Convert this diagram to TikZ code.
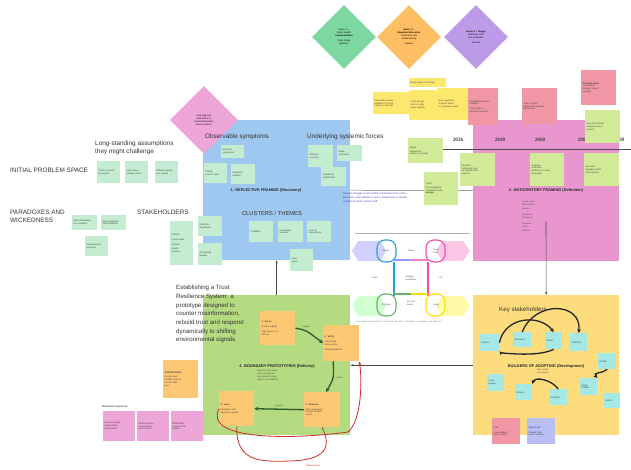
\documentclass[tikz,border=0pt]{standalone}
\usepackage{fontspec}
\setmainfont{Liberation Sans}
\newfontfamily\yearfont{Liberation Serif}
\usetikzlibrary{arrows.meta,shapes.geometric}
\definecolor{kblue}{RGB}{158,200,240}
\definecolor{kpink}{RGB}{232,150,205}
\definecolor{kgreen}{RGB}{180,218,130}
\definecolor{kyellow}{RGB}{253,220,125}
\definecolor{kmint}{RGB}{196,236,208}
\definecolor{klime}{RGB}{208,234,152}
\definecolor{korange}{RGB}{253,200,115}
\definecolor{krose}{RGB}{240,150,165}
\definecolor{klemon}{RGB}{253,232,110}
\definecolor{kcyan}{RGB}{165,232,228}
\definecolor{kmagenta}{RGB}{238,165,215}
\definecolor{klav}{RGB}{185,190,245}
\definecolor{kpurple}{RGB}{95,60,200}
\definecolor{karrow}{RGB}{45,90,40}
\definecolor{kred}{RGB}{205,45,45}
\definecolor{ksec1}{RGB}{125,215,160}
\definecolor{ksec2}{RGB}{253,190,100}
\definecolor{ksec3}{RGB}{190,155,232}
\tikzset{
  area/.style={fill=#1, anchor=north west, inner sep=0pt},
  stk/.style={fill=#1, anchor=north west, align=left, inner sep=1.5pt, text=black!75, font=\fontsize{2.3}{2.8}\selectfont},
  sz/.style 2 args={text width=#1pt, minimum height=#2pt},
  head/.style={font=\fontsize{6.4}{8}\selectfont, text=black!80, align=left, inner sep=0pt},
  phase/.style={font=\bfseries\fontsize{3.9}{4.6}\selectfont, text=black!85, inner sep=0pt},
  year/.style={font=\yearfont\bfseries\fontsize{5.2}{6}\selectfont, text=black!75, inner sep=0pt},
  tiny/.style={font=\fontsize{2.2}{2.8}\selectfont, text=black!70, align=left, inner sep=0pt},
  sector/.style={diamond, fill=#1, minimum width=64pt, minimum height=64pt, inner sep=0pt, align=center, font=\fontsize{2.3}{2.9}\selectfont},
  link/.style={-{Stealth[length=3pt]}, draw=black!70, line width=0.6pt},
  gflow/.style={-{Stealth[length=4pt,width=4pt]}, draw=karrow, line width=1.3pt},
  rflow/.style={draw=kred, line width=0.8pt},
  bflow/.style={-{Stealth[length=4pt,width=4pt]}, draw=black!85, line width=1.3pt},
}
\begin{document}
\begin{tikzpicture}[x=1pt, y=-1pt]
  \useasboundingbox[fill=white] (0,0) rectangle (631,470);

  % big boards
  \node[area=kblue, minimum width=147pt, minimum height=140pt] (reflect) at (203,120) {};
  \node[area=kpink, minimum width=146pt, minimum height=141pt] (anticip) at (473,120) {};
  \node[area=kgreen, minimum width=147pt, minimum height=140pt] (deliver) at (203,295) {};
  \node[area=kyellow, minimum width=146pt, minimum height=140pt] (develop) at (473,295) {};

  % links between boards
  \coordinate (listtop) at (546,222);
  \draw[draw=black!55, line width=0.5pt] (reflect.east) -- (anticip.west);
  \draw[link] (deliver.north) -- (reflect.south);
  \draw[link] (listtop) -- (develop.north);
  \draw[link] (develop.west) -- (deliver.east);

  % sector diamonds
  \node[sector=kmagenta, minimum width=68pt, minimum height=68pt, text width=26pt] (problem) at (204,120) {How might we\\rebuild trust in\\shared information\\across sectors?};
  \node[sector=ksec1, text width=28pt] (sec1) at (344,37) {Sector 1 --\\Public Health\\\textbf{Communication}\\[2pt]Clear, timely\\guidance};
  \node[sector=ksec2, text width=28pt] (sec2) at (409,37) {\textbf{Sector 2 --}\\\textbf{Mandated Education}\\Curriculum and\\media literacy\\[2pt]systems};
  \node[sector=ksec3, text width=28pt] (sec3) at (476,37) {\textbf{Sector 3 -- Supply}\\Platforms, tools\\and verification\\[2pt]services};

  % initial problem space
  \node[head, anchor=north west] (assume) at (95,141) {Long-standing assumptions\\they might challenge};
  \node[head, anchor=west] (initial) at (10,170) {INITIAL PROBLEM SPACE};
  \node[stk=kmint, sz={20}{22}] (a1) at (97,161) {Trust is earned\\by experts};
  \node[stk=kmint, sz={20}{22}] (a2) at (125,161) {Facts alone\\change minds};
  \node[stk=kmint, sz={20}{22}] (a3) at (155,161) {Official sources\\are neutral};
  \node[head, anchor=north west] (paradox) at (10,210) {PARADOXES AND\\WICKEDNESS};
  \node[stk=kmint, sz={22}{15}] (p1) at (72,215) {More information,\\less certainty};
  \node[stk=kmint, sz={22}{15}] (p2) at (101,215) {Open platforms,\\closed bubbles};
  \node[stk=kmint, sz={20}{20}] (p3) at (85,236) {Speed versus\\accuracy};
  \node[head, anchor=north west] (stake) at (137,210) {STAKEHOLDERS};
  \node[stk=kmint, sz={20}{44}] (h1) at (170,221) {Citizens\\[2pt]Local media\\[2pt]Schools\\[2pt]Health\\services};
  \node[stk=kmint, sz={21}{20}] (h2) at (198,216) {Platforms\\Regulators};
  \node[stk=kmint, sz={21}{22}] (h3) at (198,243) {Community\\leaders};

  % reflective framing
  \node[head, anchor=west] (symptom) at (205,137) {Observable symptoms};
  \node[head, anchor=west] (forces) at (307,137) {Underlying systemic forces};
  \node[stk=kmint, sz={20}{13}] (o1) at (221,145) {Rumours\\spread fast};
  \node[stk=kmint, sz={20}{20}] (o2) at (204,163) {Falling\\trust in news};
  \node[stk=kmint, sz={21}{20}] (o3) at (231,164) {Polarised\\debates};
  \node[stk=kmint, sz={22}{22}] (f1) at (308,145) {Attention\\economy};
  \node[stk=kmint, sz={22}{16}] (f2) at (337,145) {Weak\\institutions};
  \node[stk=kmint, sz={22}{19}] (f3) at (321,167) {Algorithmic\\amplification};
  \node[phase] (ph1) at (266,190) {1. REFLECTIVE FRAMING (Discovery)};
  \node[tiny, text=kpurple, anchor=north west, text width=64pt, font=\fontsize{2.6}{4.4}\selectfont] (note) at (343,192)
    {Citizens struggle to tell reliable information from misinformation, and institutions lack a shared way to rebuild confidence when signals shift.};
  \node[head, font=\fontsize{5.8}{7}\selectfont] (cluster) at (272,213) {CLUSTERS / THEMES};
  \node[stk=kmint, sz={21}{21}] (c1) at (249,221) {Credibility};
  \node[stk=kmint, sz={22}{21}] (c2) at (278,221) {Information\\overload};
  \node[stk=kmint, sz={21}{21}] (c3) at (307,221) {Loss of\\shared facts};
  \node[stk=kmint, sz={20}{22}] (c4) at (290,249) {Trust\\repair};

  % signals above the timeline
  \node[stk=klemon, sz={34}{22}] (y1) at (373,92) {Open data portals\\available to check\\claims in real time};
  \node[stk=klemon, sz={34}{9}] (y0) at (409,78) {Early signals of change};
  \node[stk=klemon, sz={30}{30}] (y2) at (409,90) {Local groups\\start to verify\\news together};
  \node[stk=klemon, sz={30}{32}] (y3) at (437,88) {New regulation\\requires labels\\on synthetic media};
  \node[stk=krose, sz={27}{37}] (r1) at (468,88) {Deepfakes become\\common\\[2pt]Trust shifts to\\personal networks};
  \node[stk=krose, sz={32}{36}] (r2) at (522,88) {Rise in public\\demand for verified\\information};
  \node[stk=krose, sz={32}{35}] (r3) at (581,70) {\textbf{Possible future}\\Trust rebuilt\\through shared\\systems};

  % timeline
  \node[year] (y2026) at (458,140) {2026};
  \node[year] (y2040) at (500,140) {2040};
  \node[year] (y2060) at (540,140) {2060};
  \node[year] (y2080) at (583,140) {2080};
  \node[year] (y2100) at (619,140) {2100};
  \coordinate (tl0) at (443,150);
  \coordinate (tl1) at (631,150);
  \draw[black!70, line width=1pt] (tl0) -- (tl1);
  \node[stk=klime, sz={32}{33}] (t0) at (585,110) {New trust charter\\adopted across\\sectors};
  \node[stk=klime, sz={32}{25}] (t1) at (408,138) {Signal\\[1pt]Shared fact\\checks in schools};
  \node[stk=klime, sz={31}{33}] (t2) at (424,172) {Trend\\[1pt]Community-led\\verification hubs\\\textbf{emerge}};
  \node[stk=klime, sz={32}{33}] (t3) at (460,153) {Scenario\\Individuals rely\\on trusted local\\sources};
  \node[stk=klime, sz={31}{33}] (t4) at (530,153) {Scenario\\Collective\\platforms to share\\and verify};
  \node[stk=klime, sz={32}{33}] (t5) at (584,153) {Scenario\\Adaptive public\\trust systems};
  \node[phase] (ph2) at (546,190) {2. ANTICIPATORY FRAMING (Definition)};
  \node[tiny, anchor=north west, text width=22pt, font=\fontsize{2.1}{3.2}\selectfont] (plist) at (522,201)
    {Horizon scan\\Weak signals\\Drivers\\[3pt]Scenario A\\Scenario B\\[3pt]Preferred\\future\\Backcast};

  % infinity loop in the middle
  \draw[gray!60, line width=0.5pt] (355,233) -- (470,233);
  \fill[blue!18] (352,251) -- (358,241) -- (380,241) -- (386,251) -- (380,261) -- (358,261) -- cycle;
  \fill[magenta!22] (436,251) -- (442,241) -- (463,241) -- (470,251) -- (463,261) -- (442,261) -- cycle;
  \fill[green!18] (352,306) -- (358,296) -- (380,296) -- (386,306) -- (380,316) -- (358,316) -- cycle;
  \fill[yellow!35] (436,306) -- (442,296) -- (463,296) -- (470,306) -- (463,316) -- (442,316) -- cycle;
  \draw[cyan!70!teal, line width=1.1pt] (394,262) -- (394,296);
  \draw[magenta!70, line width=1.1pt] (428,262) -- (428,296);
  \draw[blue!40, line width=1.1pt] (394,260) -- (411,260);
  \draw[magenta!50, line width=1.1pt] (411,260) -- (428,260);
  \draw[green!50!black!60, line width=1.1pt] (394,294) -- (411,294);
  \draw[yellow!80!orange, line width=1.1pt] (411,294) -- (428,294);
  \draw[cyan!70!teal, line width=1.1pt, rounded corners=8pt] (377,240) rectangle (396,262);
  \draw[magenta!70, line width=1.1pt, rounded corners=8pt] (426,240) rectangle (445,262);
  \draw[green!50!black!60, line width=1.1pt, rounded corners=8pt] (377,294) rectangle (396,316);
  \draw[yellow!80!orange, line width=1.1pt, rounded corners=8pt] (426,294) rectangle (445,316);
  \node[tiny] (i1) at (386,251) {Sense};
  \node[tiny] (i2) at (411,251) {Frame};
  \node[tiny] (i3) at (436,251) {Future\\vision};
  \node[tiny] (i4) at (375,278) {Learn};
  \node[tiny] (i5) at (411,278) {Bridging\\boundaries};
  \node[tiny] (i6) at (441,278) {Act};
  \node[tiny] (i7) at (386,305) {Prototype};
  \node[tiny] (i8) at (411,303) {Test and\\iterate};
  \node[tiny] (i9) at (436,305) {Adopt};
  \node[tiny, text=gray, text width=112pt] (cap) at (412,322) {A boundary-spanning loop connecting reflection, anticipation, prototyping and adoption};

  % boundary prototyping
  \node[head, anchor=north west, font=\fontsize{6.1}{8.7}\selectfont] (proto) at (176,285)
    {Establishing a Trust\\Resilience System: a\\prototype designed to\\counter misinformation,\\rebuild trust and respond\\dynamically to shifting\\environmental signals};
  \node[stk=korange, sz={32}{34}] (s1) at (260,311) {\textbf{1. Sense}\\[2pt]Monitor signals\\[2pt]Map sources of\\distrust};
  \node[stk=korange, sz={33}{36}] (s2) at (323,325) {\textbf{2. Verify}\\[2pt]Community\\check points\\[2pt]Shared evidence};
  \node[stk=korange, sz={33}{35}] (s3) at (304,392) {\textbf{3. Respond}\\[2pt]Clear messages\\through trusted\\voices};
  \node[stk=korange, sz={32}{35}] (s4) at (219,391) {\textbf{4. Learn}\\[2pt]Feedback and\\adjust the system};
  \node[stk=korange, sz={32}{38}] (s0) at (163,360) {\textbf{ASSUMPTIONS}\\[2pt]People want\\reliable sources\\and will take\\part};
  \node[phase] (ph4) at (277,366) {4. BOUNDARY PROTOTYPING (Delivery)};
  \node[tiny, anchor=north west, text width=40pt] (pnote) at (257,370) {Iterative cycle tested\\with local partners\\and refined through\\signals and feedback};
  \draw[gflow] (s1.east) .. controls (306,330) .. (s2.west) node[midway, above=3pt, tiny] {signals};
  \draw[gflow] ([xshift=-8pt]s2.south) .. controls (334,378) .. ([xshift=4pt]s3.north) node[midway, right=2pt, tiny] {verified};
  \draw[gflow] (s3.west) -- (s4.east) node[midway, above=2pt, tiny] {respond};
  \draw[rflow, -{Stealth[length=4pt]}] (s4.west) .. controls (203,440) and (290,440) .. (348,432) .. controls (362,420) and (362,380) .. (s2.south east);
  \draw[rflow] (s4.south) .. controls (236,462) and (260,462) .. (290,461) .. controls (325,460) and (332,448) .. (s3.south);
  \node[tiny, text=kred] (rnote) at (313,466) {feedback loop};

  % research responses
  \node[tiny, font=\bfseries\fontsize{2.6}{3}\selectfont, anchor=west] (research) at (102,407) {Research responses};
  \node[stk=kmagenta, sz={29}{30}] (q1) at (103,411) {How do people\\judge what is\\trustworthy?};
  \node[stk=kmagenta, sz={29}{30}] (q2) at (137,411) {Which sources\\are trusted in\\each sector?};
  \node[stk=kmagenta, sz={29}{30}] (q3) at (171,411) {What helps\\people verify\\claims?};

  % development board
  \node[head, font=\fontsize{6.2}{8}\selectfont] (keys) at (523,310) {Key stakeholders};
  \node[stk=kcyan, sz={16}{17}] (k1) at (480,334) {Citizens};
  \node[stk=kcyan, sz={15}{15}] (k2) at (513,332) {Educators};
  \node[stk=kcyan, sz={14}{17}] (k3) at (545,332) {Media};
  \node[stk=kcyan, sz={14}{18}] (k4) at (570,333) {Platforms};
  \node[stk=kcyan, sz={15}{16}] (k5) at (598,353) {Health};
  \node[stk=kcyan, sz={14}{17}] (k6) at (487,374) {Local\\groups};
  \node[stk=kcyan, sz={14}{16}] (k7) at (515,384) {Schools};
  \node[stk=kcyan, sz={15}{16}] (k8) at (549,389) {Councils};
  \node[stk=kcyan, sz={14}{17}] (k9) at (580,378) {Policy\\makers};
  \node[stk=kcyan, sz={13}{15}] (k10) at (604,393) {NGOs};
  \node[phase] (ph3) at (546,366) {BUILDERS OF ADOPTING (Development)};
  \node[tiny, anchor=north west, text width=22pt] (dnote) at (537,369) {Who builds,\\who adopts};
  \node[stk=krose, sz={25}{26}] (d1) at (492,418) {Risk\\[2pt]Low uptake if\\trust is weak};
  \node[stk=klav, sz={25}{26}] (d2) at (527,418) {Opportunity\\[2pt]Shared tools\\across sectors};
  \draw[bflow] (k1.east) .. controls (505,316) and (540,314) .. (k3.north);
  \draw[bflow] (k2.north) .. controls (535,300) and (582,302) .. (k4.north);
  \draw[bflow] (k3.south) .. controls (535,358) and (500,352) .. (k1.south east);
  \draw[bflow] (k5.south) .. controls (602,374) and (592,372) .. (k9.north east);
  \draw[bflow] (k8.north) .. controls (552,380) and (535,376) .. (k7.north east);
\end{tikzpicture}
\end{document}
